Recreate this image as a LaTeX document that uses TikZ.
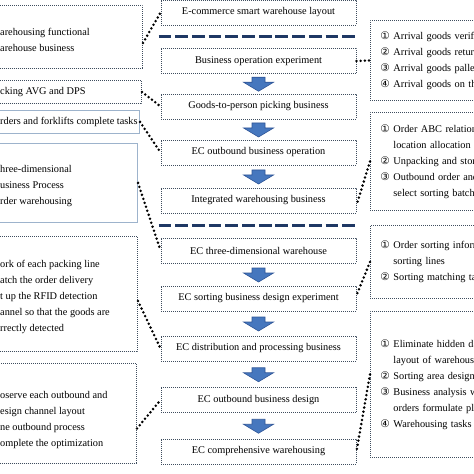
\documentclass[tikz,border=0pt]{standalone}
\usepackage{fontspec}
\setmainfont{Liberation Serif}
\newfontfamily\circfont{DejaVu Sans}
\usepackage{tikz}
\usetikzlibrary{calc}
\definecolor{boxline}{HTML}{3F4D5E}
\definecolor{paleline}{HTML}{9DB3CC}
\definecolor{navy}{HTML}{1F3864}
\definecolor{arrowfill}{HTML}{4677BE}
\definecolor{arrowline}{HTML}{2F5597}
\newcommand{\cnum}[1]{\makebox[13bp][l]{\circfont\fontsize{10.5bp}{16bp}\selectfont #1}}
\newcommand{\cgap}{\hspace*{13bp}}

\begin{document}
\begin{tikzpicture}[x=1bp,y=-1bp,
  every node/.style={font=\fontsize{10.3bp}{16bp}\selectfont},
  dotline/.style={draw=boxline,line width=0.9bp,dash pattern=on 0.9bp off 1.1bp},
  mainbox/.style={dotline,minimum width=195bp,minimum height=25bp,inner sep=0pt},
  lbox/.style={dotline,anchor=north east,inner sep=0pt},
  palebox/.style={draw=paleline,line width=0.8bp,anchor=north east,inner sep=0pt},
  ltext/.style={anchor=west,align=left,inner sep=0pt},
  rbox/.style={dotline,anchor=north west,text width=140bp,align=left,inner xsep=10bp,inner ysep=0pt},
  link/.style={black,line width=2.8bp,dash pattern=on 0bp off 4.2bp,line cap=round},
  sepline/.style={navy,line width=3.5bp,dash pattern=on 12.8bp off 3.9bp,shorten <=-2bp,shorten >=-1bp},
  blockarrow/.style={fill=arrowfill,draw=arrowline,line width=0.6bp}]
  \useasboundingbox (0,0) rectangle (474,474);
  \fill[white] (0,0) rectangle (474,474);

  % middle column
  \foreach \nm/\y/\txt in {c1/12.5/{E-commerce smart warehouse layout},
    c2/61/{Business operation experiment},
    c3/106.5/{Goods-to-person picking business},
    c4/152.5/{EC outbound business operation},
    c5/200.5/{Integrated warehousing business},
    c6/250.5/{EC three-dimensional warehouse},
    c7/298.5/{EC sorting business design experiment},
    c8/348.5/{EC distribution and processing business},
    c9/400/{EC outbound business design},
    c10/451.5/{EC comprehensive warehousing}}
    \node[mainbox] (\nm) at (258.5,\y) {\txt};

  \draw[sepline] ($(c1.south west)!0.5!(c2.north west)$) -- ($(c1.south east)!0.5!(c2.north east)$);
  \draw[sepline] ($(c5.south west)!0.5!(c6.north west)$) -- ($(c5.south east)!0.5!(c6.north east)$);

  \foreach \a/\b in {c2/c3,c3/c4,c4/c5,c6/c7,c7/c8,c8/c9,c9/c10} {
    \coordinate (mid) at ($(\a.south)!0.5!(\b.north)$);
    \filldraw[blockarrow] (mid) ++(-6.5,-6.5) -- ++(13,0) -- ++(0,5) -- ++(8.5,0)
      -- ++(-15,9) -- ++(-15,-9) -- ++(8.5,0) -- cycle;
  }

  % left column
  \node[lbox,minimum width=149bp,minimum height=63bp] (l1) at (143,5) {};
  \node[lbox,minimum width=148bp,minimum height=23bp] (l2) at (142,80) {};
  \node[palebox,minimum width=146bp,minimum height=23bp] (l3) at (140,110) {};
  \node[palebox,minimum width=144bp,minimum height=79bp] (l4) at (138,143) {};
  \node[lbox,minimum width=144bp,minimum height=115bp] (l5) at (138,236) {};
  \node[lbox,minimum width=143bp,minimum height=100bp] (l6) at (137,363) {};

  \node[ltext] (l1t) at (0,40) {arehousing functional\\arehouse business};
  \node[ltext] (l2t) at (0,92) {cking AVG and DPS};
  \node[ltext] (l3t) at (0,122) {rders and forklifts complete tasks};
  \node[ltext] (l4t) at (0,186) {hree-dimensional\\usiness Process\\rder warehousing};
  \node[ltext] (l5t) at (0,296.5) {ork of each packing line\\atch the order delivery\\t up the RFID detection\\annel so that the goods are\\rrectly detected};
  \node[ltext] (l6t) at (0,420) {oserve each outbound and\\esign channel layout\\ne outbound process\\omplete the optimization};

  % right column
  \node[rbox,minimum height=80bp] (r1) at (370,20)
    {\cnum{①}Arrival goods verif\\\cnum{②}Arrival goods retur\\\cnum{③}Arrival goods palle\\\cnum{④}Arrival goods on th};
  \node[rbox,minimum height=98bp] (r2) at (370,112)
    {\cnum{①}Order ABC relation\\\cgap location allocation\\\cnum{②}Unpacking and stor\\\cnum{③}Outbound order and\\\cgap select sorting batch};
  \node[rbox,minimum height=73bp] (r3) at (370,225)
    {\cnum{①}Order sorting inform\\\cgap sorting lines\\\cnum{②}Sorting matching ta};
  \node[rbox,minimum height=146bp] (r4) at (370,311)
    {\cnum{①}Eliminate hidden da\\\cgap layout of warehous\\\cnum{②}Sorting area design\\\cnum{③}Business analysis w\\\cgap orders formulate pl\\\cnum{④}Warehousing tasks};

  % dotted links
  \draw[link] ([yshift=-6bp]l1.east) -- (c1.west);
  \draw[link] (l2.east) -- (c3.west);
  \draw[link] (l3.east) -- (c4.west);
  \draw[link] (l4.east) -- (c6.west);
  \draw[link] ([yshift=-7bp]l5.east) -- (c8.west);
  \draw[link] ([yshift=-15bp]l6.east) -- (c9.west);
  \draw[link] (c2.east) -- (r1.west);
  \draw[link] (r2.west) -- ([yshift=-5bp]c5.east);
  \draw[link] (r3.west) -- ([yshift=3bp]c7.east);
  \draw[link] ([yshift=10bp]r4.west) -- (c10.east);
\end{tikzpicture}
\end{document}
